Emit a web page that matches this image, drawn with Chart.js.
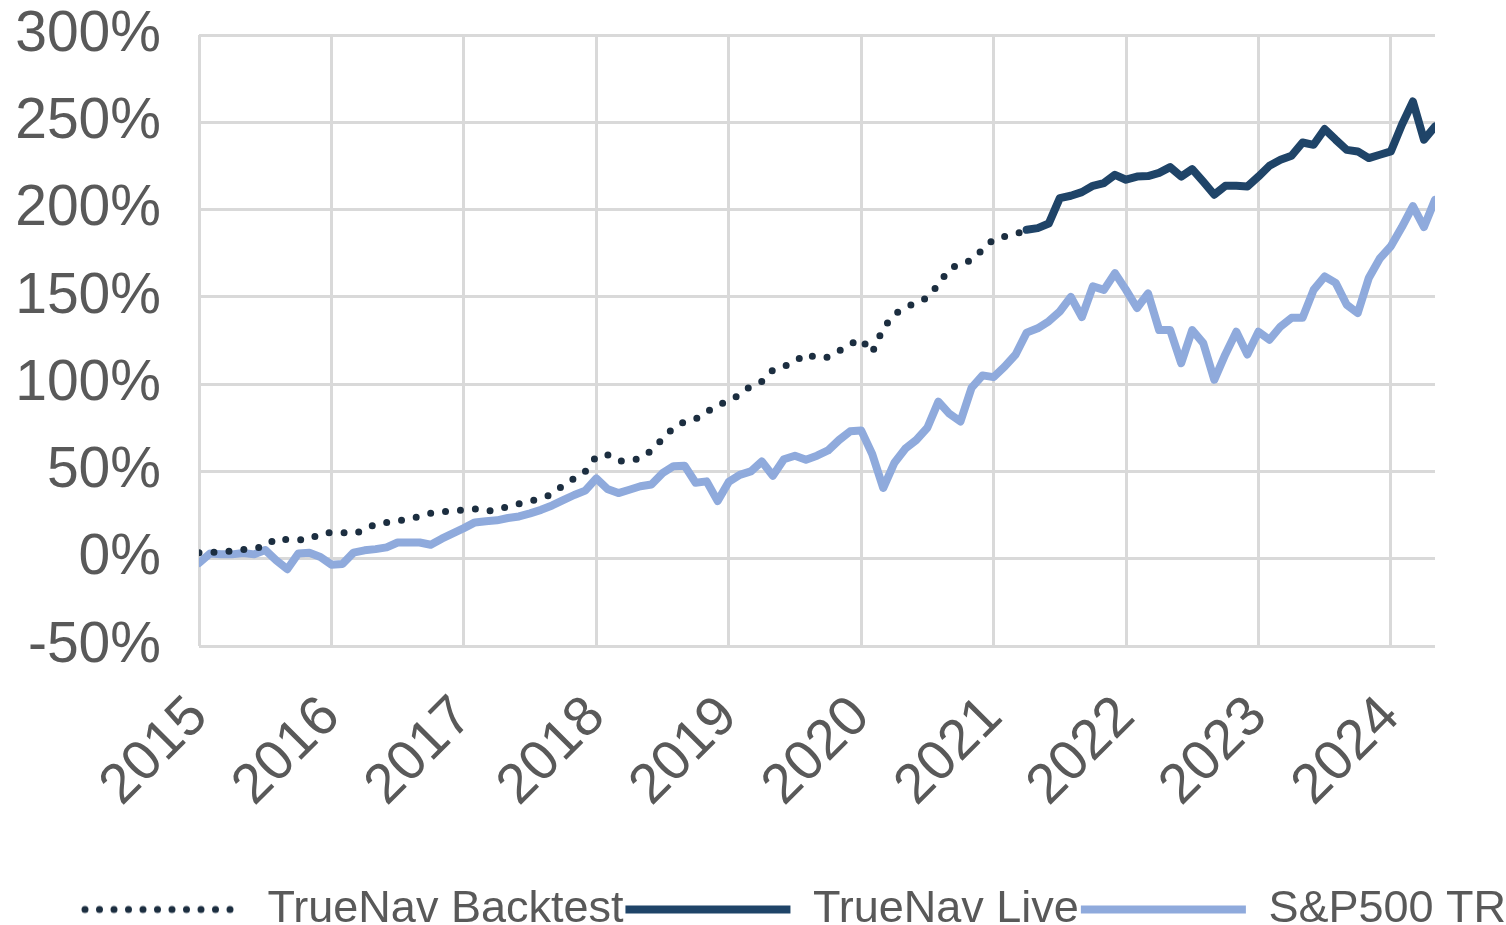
<!DOCTYPE html>
<html lang="en">
<head>
    <meta charset="UTF-8">
    <title>TrueNav vs S&amp;P500 TR</title>
    <script src="https://cdn.jsdelivr.net/npm/chart.js"></script>
    <style>
        body {
            margin: 0;
            background-color: #ffffff;
        }
        .chart-box {
            width: 1506px;
            height: 925px;
        }
    </style>
</head>
<body>
    <div class="chart-box">
        <canvas id="perfChart"></canvas>
    </div>
    <script>
        // Monthly series, starting January 2015 (cumulative return, %)
        const startYear = 2015;
        const yearTicks = [2015, 2016, 2017, 2018, 2019, 2020, 2021, 2022, 2023, 2024];
        const percentTicks = [-50, 0, 50, 100, 150, 200, 250, 300];

        // Jan 2015 .. Apr 2021
        const backtest = [
            3.4, 3.6, 4, 4.3, 5.2, 6, 7, 11.8, 10.9, 10.9, 11, 14.5,
            15, 15, 14.3, 16.5, 20, 20.8, 21.5, 23, 24.2, 26, 27.1, 27.1,
            28, 28.5, 27.1, 28, 30, 31.5, 33, 34.5, 37, 42, 46, 50,
            58.5, 59.6, 56, 56, 57.5, 62, 68.6, 75, 78.5, 80, 84, 88,
            90.5, 94, 99, 101.5, 108, 110, 113, 117.4, 115, 115.5, 119, 123,
            125.8, 118, 132, 140, 144, 146.5, 149.5, 157, 166, 169, 171, 177,
            183, 184.5, 186, 188.4
        ];

        // Apr 2021 .. May 2024
        const liveStart = 75;
        const live = [
            188.4, 189.4, 192, 206.6, 207.9, 210, 213.6, 215.2, 219.9,
            217.1, 218.9, 219.2, 221, 224.3, 218.9, 223.2, 216, 208.5, 213.6, 213.6, 213.2,
            218.9, 225.1, 228.5, 230.8, 238.4, 237.1, 246.1, 240, 234.2, 233.3, 229.5, 231.4,
            233.3, 248.6, 261.9, 240, 247.6
        ];

        // Jan 2015 .. May 2024
        const sp500 = [
            -2.5, 3, 2.5, 2.5, 3.3, 2.5, 5, -1, -6, 3, 3.4, 1,
            -3.4, -3, 3.5, 4.8, 5.5, 6.5, 9.3, 9.3, 9.3, 8, 11.5, 14.5,
            17.5, 20.8, 21.5, 22, 23.3, 24.2, 26, 28, 30.5, 33.5, 36.5, 39,
            46, 40, 37.6, 39.5, 41.5, 42.5, 49, 53, 53.3, 43.5, 44.3, 33,
            44, 48, 50, 55.7, 47.5, 57, 59, 56.7, 59, 62, 68, 73,
            73.5, 60, 40.5, 54.8, 63, 68, 75, 90, 83, 78.6, 97.8, 105,
            104, 110, 117, 129.5, 132, 136, 141.6, 150, 138.4, 156, 154, 163.6,
            154, 143.6, 152, 131, 131, 112, 131, 123.5, 102.5, 117, 130, 117,
            130, 125.4, 133, 138, 138, 154, 161.7, 158, 145.5, 140.7, 160.8, 172,
            179, 190, 202, 190, 205.6
        ];

        const monthCount = sp500.length;
        const toPoints = (values, offset) =>
            values.map((v, i) => ({ x: startYear + (i + offset) / 12, y: v }));

        const tickColor = '#595959';
        const gridColor = '#d9d9d9';
        const fontFamily = '"Liberation Sans", Arial, sans-serif';
        const padBottom = -17;
        const legendShift = 40;

        // dotted legend symbol for the backtest series
        function dottedSymbol(color) {
            const c = document.createElement('canvas');
            c.width = 165;
            c.height = 10;
            const g = c.getContext('2d');
            g.strokeStyle = color;
            g.lineWidth = 7;
            g.lineCap = 'round';
            g.setLineDash([0, 14.5]);
            g.beginPath();
            g.moveTo(5, 5);
            g.lineTo(162, 5);
            g.stroke();
            return c;
        }

        // move the legend row a bit right, like the original
        const shiftLegend = {
            id: 'shiftLegend',
            afterLayout(chart) {
                chart.legend.left += legendShift;
                chart.legend.right += legendShift;
            }
        };

        const ctx = document.getElementById('perfChart').getContext('2d');
        const chart = new Chart(ctx, {
            type: 'line',
            data: {
                datasets: [
                    {
                        label: 'TrueNav Backtest',
                        data: toPoints(backtest, 0),
                        borderColor: '#1c2e40',
                        backgroundColor: '#1c2e40',
                        borderWidth: 7,
                        borderDash: [0, 15],
                        borderCapStyle: 'round',
                        pointStyle: dottedSymbol('#1c2e40'),
                        pointRadius: 0,
                        tension: 0
                    },
                    {
                        label: 'TrueNav Live',
                        data: toPoints(live, liveStart),
                        borderColor: '#1f4468',
                        backgroundColor: '#1f4468',
                        borderWidth: 8,
                        borderCapStyle: 'round',
                        borderJoinStyle: 'round',
                        pointStyle: 'line',
                        pointRadius: 0,
                        tension: 0
                    },
                    {
                        label: 'S&P500 TR',
                        data: toPoints(sp500, 0),
                        borderColor: '#8faadc',
                        backgroundColor: '#8faadc',
                        borderWidth: 8,
                        borderCapStyle: 'round',
                        borderJoinStyle: 'round',
                        pointStyle: 'line',
                        pointRadius: 0,
                        tension: 0
                    }
                ]
            },
            options: {
                responsive: true,
                maintainAspectRatio: false,
                animation: false,
                layout: {
                    padding: { left: 0, top: 0, right: 0, bottom: padBottom }
                },
                plugins: {
                    tooltip: { enabled: false },
                    legend: {
                        position: 'bottom',
                        labels: {
                            usePointStyle: true,
                            pointStyleWidth: 165,
                            padding: 2,
                            color: tickColor,
                            font: { family: fontFamily, size: 45 }
                        }
                    }
                },
                scales: {
                    x: {
                        type: 'linear',
                        min: startYear,
                        max: startYear + (monthCount - 1) / 12,
                        afterBuildTicks: s => { s.ticks = yearTicks.map(v => ({ value: v })); },
                        afterFit: s => { s.height = (925 - padBottom) - 646 - s.chart.legend.height; },
                        grid: { color: gridColor, lineWidth: 3, drawTicks: false },
                        border: { display: false },
                        ticks: {
                            color: tickColor,
                            font: { family: fontFamily, size: 56 },
                            minRotation: 45,
                            maxRotation: 45,
                            padding: 38,
                            callback: v => String(v)
                        }
                    },
                    y: {
                        min: -50,
                        max: 300,
                        afterBuildTicks: s => { s.ticks = percentTicks.map(v => ({ value: v })); },
                        afterFit: s => {
                            s.width = 199;
                            s.paddingTop = 35;
                            s.paddingBottom = 0;
                        },
                        grid: { color: gridColor, lineWidth: 3, drawTicks: false },
                        border: { display: false },
                        ticks: {
                            color: tickColor,
                            font: { family: fontFamily, size: 57 },
                            padding: 38,
                            callback: v => v + '%'
                        }
                    },
                    yRight: {
                        type: 'linear',
                        position: 'right',
                        afterFit: s => {
                            s.width = 71;
                            s.paddingTop = 0;
                            s.paddingBottom = 0;
                        },
                        grid: { display: false },
                        border: { display: false },
                        ticks: { display: false }
                    }
                }
            },
            plugins: [shiftLegend]
        });
    </script>
</body>
</html>
